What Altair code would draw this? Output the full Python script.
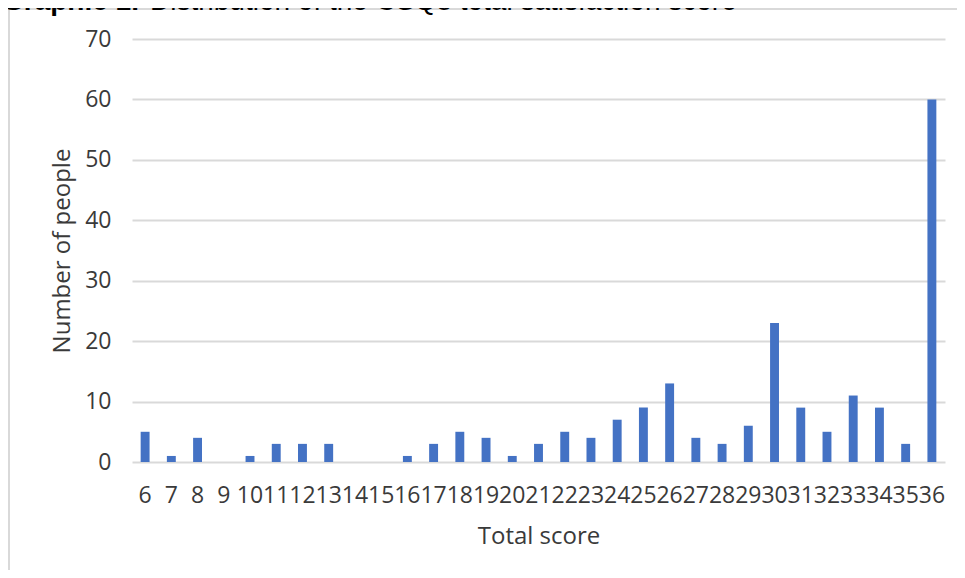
import altair as alt
import pandas as pd

scores = [str(s) for s in range(6, 37)]
counts = [5, 1, 4, 0, 1, 3, 3, 3, 0, 0, 1, 3, 5, 4, 1, 3, 5, 4, 7, 9, 13, 4, 3, 6, 23, 9, 5, 11, 9, 3, 60]
title_bold = "Graphic 1."
title_rest = "Distribution of the CSQ8 total satisfaction score"
x_title = "Total score"
y_title = "Number of people"

df = pd.DataFrame({"score": scores, "count": counts})

W, H = 813, 423
FONT = "Open Sans"
TXT = "#3a3a3a"

bars = alt.Chart(df).mark_bar(color="#4472C4").encode(
    x=alt.X("score:N", sort=scores,
            scale=alt.Scale(paddingInner=0.66, paddingOuter=0.33),
            axis=alt.Axis(title=x_title, labelAngle=0, labelOverlap=False,
                          labelPadding=22, ticks=False, domain=False, grid=False,
                          labelFont=FONT, labelFontSize=23, labelColor=TXT,
                          titleFont=FONT, titleFontSize=24, titleFontWeight="normal",
                          titleColor=TXT, titleX=W / 2, titleY=81,
                          titleBaseline="alphabetic", titleAlign="center")),
    y=alt.Y("count:Q", scale=alt.Scale(domain=[0, 70], nice=False),
            axis=alt.Axis(title=y_title, values=list(range(0, 71, 10)),
                          ticks=False, domain=False, grid=True,
                          gridColor="#d9d9d9", gridWidth=1.8,
                          labelPadding=21, labelFont=FONT, labelFontSize=23,
                          labelColor=TXT, titleFont=FONT, titleFontSize=24,
                          titleFontWeight="normal", titleColor=TXT,
                          titleAngle=270, titleX=-70, titleY=H / 2,
                          titleAlign="center", titleBaseline="middle")),
)

one = alt.Data(values=[{"a": 1}])

frame_left = alt.Chart(one).mark_rule(color="#d9d9d9", strokeWidth=2).encode(
    x=alt.value(-123), y=alt.value(-30), y2=alt.value(H + 120))
frame_top = alt.Chart(one).mark_rule(color="#d9d9d9", strokeWidth=2).encode(
    x=alt.value(-124), x2=alt.value(W + 20), y=alt.value(-30))

t1 = alt.Chart(one).mark_text(align="left", baseline="alphabetic", font="Liberation Sans",
                               fontSize=28, fontWeight="bold", color="black").encode(
    x=alt.value(-130), y=alt.value(-29), text=alt.value(title_bold))
t2 = alt.Chart(one).mark_text(align="left", baseline="alphabetic", font="Liberation Sans",
                               fontSize=28, color="black").encode(
    x=alt.value(18), y=alt.value(-29), text=alt.value(title_rest))

chart = alt.layer(frame_left, frame_top, t1, t2, bars).properties(
    width=W, height=H,
    background="white",
    autosize=alt.AutoSizeParams(type="none"),
    padding={"left": 124, "top": 31, "right": 12, "bottom": 108},
).configure_view(stroke=None, strokeWidth=0)

chart.save("out.html", embed_options={"renderer": "svg", "actions": False})
